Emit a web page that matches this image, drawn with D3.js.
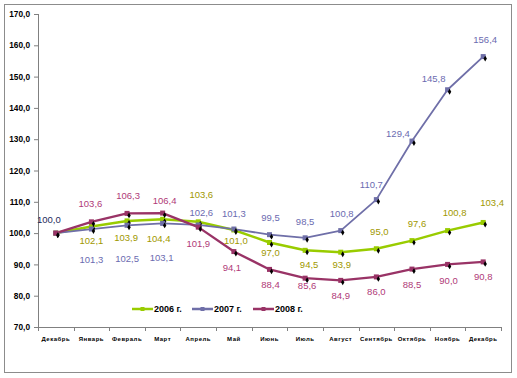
<!DOCTYPE html>
<html><head><meta charset="utf-8">
<script src="https://cdn.jsdelivr.net/npm/d3@7/dist/d3.min.js"></script>
<style>body{margin:0;background:#fff;}svg{display:block;}</style>
</head><body>
<script>
const categories = ["Декабрь","Январь","Февраль","Март","Апрель","Май","Июнь","Июль","Август","Сентябрь","Октябрь","Ноябрь","Декабрь"];
const seriesNames = ["2006 г.","2007 г.","2008 г."];
const values2006 = [100.0,102.1,103.9,104.4,103.6,101.0,97.0,94.5,93.9,95.0,97.6,100.8,103.4];
const values2007 = [100.0,101.3,102.5,103.1,102.6,101.3,99.5,98.5,100.8,110.7,129.4,145.8,156.4];
const values2008 = [100.0,103.6,106.3,106.4,101.9,94.1,88.4,85.6,84.9,86.0,88.5,90.0,90.8];
const yTicks = [70,80,90,100,110,120,130,140,150,160,170];

// label layout offsets (px) relative to each point
const labelOff2006 = [[-7,-14],[0,14],[-1,17],[-4,19],[3,-27],[2,11],[1,10],[4,14],[1,12],[3,-17],[5,-17],[7,-18],[9,-20]];
const labelOff2007 = [null,[0,30],[0,33],[-1,34],[3,-12],[0,-16],[1,-17],[0,-16],[1,-17],[-5,-15],[-14,-8],[-14,-11],[2,-17]];
const labelOff2008 = [null,[-1,-18],[1,-18],[2,-13],[0,16],[-2,16],[1,15],[2,7],[0,15],[0,15],[0,15],[1,16],[0,15]];

const W=517,H=378;
const svg=d3.select("body").append("svg").attr("width",W).attr("height",H);
svg.append("rect").attr("x",4.5).attr("y",4.5).attr("width",507).attr("height",368)
  .attr("fill","#fff").attr("stroke","#8c8c8c").attr("stroke-width",1);

const x=d3.scaleBand().domain(d3.range(categories.length)).range([38,501]).padding(0);
const y=d3.scaleLinear().domain([70,170]).range([327,14]);
const cx=i=>x(i)+x.bandwidth()/2;

// Y axis
const yAxis=svg.append("g").attr("transform","translate(38,0)")
  .call(d3.axisLeft(y).tickValues(yTicks).tickSize(4).tickPadding(4)
    .tickFormat(d=>d3.format(".1f")(d).replace(".",",")));
yAxis.selectAll("path,line").attr("stroke","#808080");
yAxis.select("path").attr("d","M0.5,14V327.5");
yAxis.selectAll("text").attr("font-family","Liberation Sans, Arial, sans-serif")
  .attr("font-size","8.3px").attr("font-weight","bold").attr("fill","#000");

// X axis
const xg=svg.append("g").attr("transform","translate(0,327)");
xg.append("line").attr("x1",38).attr("x2",501).attr("y1",0.5).attr("y2",0.5).attr("stroke","#808080");
xg.selectAll("line.tk").data(d3.range(categories.length+1)).join("line").attr("class","tk")
  .attr("x1",i=>Math.round(i<categories.length?x(i):x(categories.length-1)+x.bandwidth())+0.5)
  .attr("x2",i=>Math.round(i<categories.length?x(i):x(categories.length-1)+x.bandwidth())+0.5)
  .attr("y1",0).attr("y2",4).attr("stroke","#808080");
xg.selectAll("text").data(categories).join("text")
  .attr("x",(d,i)=>cx(i)).attr("y",13.5).attr("text-anchor","middle")
  .attr("font-family","Liberation Sans, Arial, sans-serif").attr("font-size","6px")
  .attr("font-weight","bold").attr("letter-spacing","0.5px").attr("fill","#000").text(d=>d);

const series=[
  {name:seriesNames[0],vals:values2006,line:"#99cc00",lab:"#a09800",w:2.5,off:labelOff2006},
  {name:seriesNames[1],vals:values2007,line:"#6f6fa8",lab:"#6b6bb0",w:1.8,off:labelOff2007},
  {name:seriesNames[2],vals:values2008,line:"#993366",lab:"#b03a78",w:2.3,off:labelOff2008}
];
const line=d3.line().x((d,i)=>cx(i)).y(d=>y(d));
series.forEach(s=>{
  svg.append("path").attr("d",line(s.vals)).attr("fill","none")
    .attr("stroke",s.line).attr("stroke-width",s.w).attr("stroke-linejoin","round");
});
series.forEach(s=>{
  const g=svg.append("g");
  g.selectAll("rect.mk").data(s.vals).join("rect").attr("class","mk")
    .attr("x",(d,i)=>cx(i)-2.5).attr("y",d=>y(d)-2.5).attr("width",5).attr("height",5)
    .attr("fill",s.line);
  g.selectAll("path.sh").data(s.vals).join("path").attr("class","sh")
    .attr("d",d3.symbol(d3.symbolDiamond,10)())
    .attr("transform",(d,i)=>`translate(${cx(i)+2},${y(d)+2})`).attr("fill","#000");
});
// labels
series.forEach((s,si)=>{
  svg.append("g").selectAll("text").data(s.vals.map((v,i)=>({v,i,o:s.off[i]})).filter(d=>d.o))
    .join("text")
    .attr("x",d=>cx(d.i)+d.o[0]).attr("y",d=>y(d.v)+d.o[1]+3.5)
    .attr("text-anchor","middle").attr("font-family","Liberation Sans, Arial, sans-serif")
    .attr("font-size","9.5px").attr("fill",d=>(d.i===0?"#1e2a5a":s.lab))
    .text(d=>d3.format(".1f")(d.v).replace(".",","));
});
// legend
const lx=[132,192,253];
series.forEach((s,si)=>{
  const g=svg.append("g").attr("transform",`translate(${lx[si]},309)`);
  g.append("line").attr("x1",0).attr("x2",21).attr("y1",0).attr("y2",0).attr("stroke",s.line).attr("stroke-width",2.5);
  g.append("rect").attr("x",8.5).attr("y",-2).attr("width",4).attr("height",4).attr("fill",s.line);
  g.append("text").attr("x",22).attr("y",3.2).attr("font-family","Liberation Sans, Arial, sans-serif")
    .attr("font-size","9px").attr("font-weight","bold").attr("fill","#000").text(s.name);
});
</script>
</body></html>
